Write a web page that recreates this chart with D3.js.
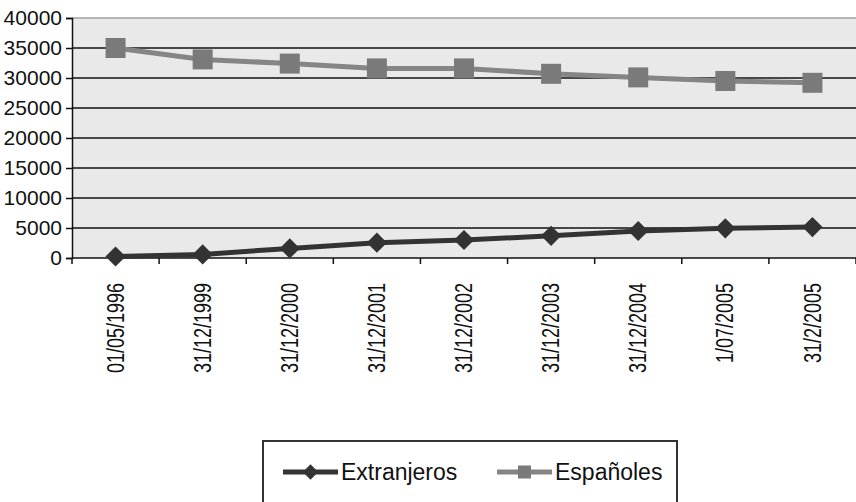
<!DOCTYPE html>
<html>
<head>
<meta charset="utf-8">
<script src="https://cdn.jsdelivr.net/npm/d3@7"></script>
<style>
  html, body { margin: 0; padding: 0; background: #fff; }
  svg { display: block; font-family: "Liberation Sans", Arial, sans-serif; }
</style>
</head>
<body>
<svg id="chart" width="856" height="502"></svg>
<script>
// Fechas de corte
const fechas = ["01/05/1996", "31/12/1999", "31/12/2000", "31/12/2001", "31/12/2002",
                "31/12/2003", "31/12/2004", "1/07/2005", "31/2/2005"];
// Población por nacionalidad
const extranjeros = [250, 600, 1600, 2550, 3000, 3700, 4500, 4950, 5150];
const espanoles   = [35000, 33100, 32400, 31600, 31600, 30700, 30100, 29500, 29200];
const yTicks = [0, 5000, 10000, 15000, 20000, 25000, 30000, 35000, 40000];
const seriesNames = ["Extranjeros", "Españoles"];

const svg = d3.select("#chart");
const W = 856, H = 502;
const m = { left: 72, top: 18, right: 0, bottom: 244 };
const pw = W - m.left - m.right, ph = H - m.top - m.bottom;

const x = d3.scaleBand().domain(fechas).range([m.left, m.left + pw]).padding(0);
const y = d3.scaleLinear().domain([0, 40000]).range([m.top + ph, m.top]);

// Plot area background
svg.append("rect")
  .attr("x", m.left).attr("y", m.top).attr("width", pw).attr("height", ph)
  .attr("fill", "#e9e9e9");
svg.append("line")
  .attr("x1", m.left).attr("x2", m.left + pw).attr("y1", m.top).attr("y2", m.top)
  .attr("stroke", "#a0a0a0").attr("stroke-width", 1.5);

// Horizontal gridlines
svg.append("g").selectAll("line").data(yTicks.filter(d => d > 0 && d < 40000)).join("line")
  .attr("x1", m.left).attr("x2", m.left + pw)
  .attr("y1", d => y(d)).attr("y2", d => y(d))
  .attr("stroke", "#111").attr("stroke-width", 1.5);

// Y axis
const yAxis = svg.append("g")
  .attr("transform", `translate(${m.left},0)`)
  .call(d3.axisLeft(y).tickValues(yTicks).tickSize(6).tickPadding(4).tickFormat(d3.format("d")));
yAxis.select(".domain").attr("stroke", "#111").attr("stroke-width", 1.5);
yAxis.selectAll(".tick line").attr("stroke", "#111").attr("stroke-width", 1.5);
yAxis.selectAll(".tick text").attr("font-size", 21).attr("fill", "#111")
  .attr("font-family", "Liberation Sans, Arial, sans-serif");

// X axis: ticks at category boundaries
const xAxisG = svg.append("g").attr("transform", `translate(0,${m.top + ph})`);
xAxisG.append("line")
  .attr("x1", m.left).attr("x2", m.left + pw).attr("y1", 0).attr("y2", 0)
  .attr("stroke", "#111").attr("stroke-width", 1.5);
const boundaries = fechas.map(f => x(f)).concat([x(fechas[fechas.length - 1]) + x.bandwidth()]);
xAxisG.selectAll("line.tk").data(boundaries).join("line").attr("class", "tk")
  .attr("x1", d => d).attr("x2", d => d).attr("y1", 0).attr("y2", 6)
  .attr("stroke", "#111").attr("stroke-width", 1.5);
// Rotated date labels, glyphs widened across the axis
xAxisG.selectAll("text").data(fechas).join("text")
  .attr("transform", d => `translate(${x(d) + x.bandwidth() / 2},25) rotate(-90) scale(1,1.28)`)
  .attr("text-anchor", "end").attr("dy", "0.35em")
  .attr("font-size", 18).attr("fill", "#111")
  .text(d => d);

const cx = d => x(d) + x.bandwidth() / 2;
const line = d3.line().x(d => cx(d[0])).y(d => y(d[1]));

const esp = fechas.map((f, i) => [f, espanoles[i]]);
const ext = fechas.map((f, i) => [f, extranjeros[i]]);

// Españoles
svg.append("path").datum(esp).attr("d", line)
  .attr("fill", "none").attr("stroke", "#858585").attr("stroke-width", 5);
svg.append("g").selectAll("rect").data(esp).join("rect")
  .attr("x", d => cx(d[0]) - 10).attr("y", d => y(d[1]) - 10)
  .attr("width", 20).attr("height", 20).attr("fill", "#7a7a7a");

// Extranjeros
const diamond = d3.symbol().type(d3.symbolDiamond2).size(260);
svg.append("path").datum(ext).attr("d", line)
  .attr("fill", "none").attr("stroke", "#333").attr("stroke-width", 5);
svg.append("g").selectAll("path").data(ext).join("path")
  .attr("d", diamond)
  .attr("transform", d => `translate(${cx(d[0])},${y(d[1])})`)
  .attr("fill", "#333");

// Legend
const lg = svg.append("g");
lg.append("rect").attr("x", 263).attr("y", 441).attr("width", 414).attr("height", 62)
  .attr("fill", "#fff").attr("stroke", "#333").attr("stroke-width", 2);
const legendItems = [
  { name: seriesNames[0], x0: 283, color: "#333", marker: "diamond" },
  { name: seriesNames[1], x0: 497, color: "#858585", marker: "square" }
];
const ly = 472;
legendItems.forEach(it => {
  lg.append("line").attr("x1", it.x0).attr("x2", it.x0 + 55).attr("y1", ly).attr("y2", ly)
    .attr("stroke", it.color).attr("stroke-width", 5);
  if (it.marker === "diamond") {
    lg.append("path").attr("d", d3.symbol().type(d3.symbolDiamond2).size(150))
      .attr("transform", `translate(${it.x0 + 27.5},${ly})`).attr("fill", it.color);
  } else {
    lg.append("rect").attr("x", it.x0 + 21).attr("y", ly - 6.5).attr("width", 13).attr("height", 13)
      .attr("fill", "#7a7a7a");
  }
  lg.append("text").attr("x", it.x0 + 58).attr("y", ly).attr("dy", "0.35em")
    .attr("font-size", 23).attr("fill", "#111").text(it.name);
});
</script>
</body>
</html>
